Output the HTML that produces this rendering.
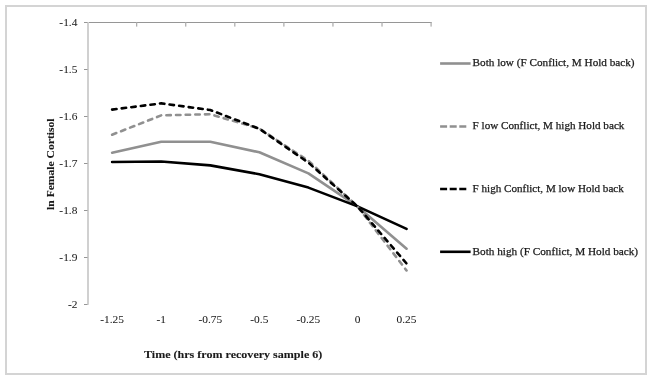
<!DOCTYPE html>
<html><head><meta charset="utf-8"><style>
html,body{margin:0;padding:0;background:#fff;}
body{width:652px;height:380px;overflow:hidden;}
svg{display:block;will-change:transform;}
text{font-family:"Liberation Serif", serif;fill:#1a1a1a;stroke:#1a1a1a;stroke-width:0.25px;}
text.b{stroke-width:0.1px;}
text.t{stroke-width:0.05px;}
</style></head><body>
<svg width="652" height="380" viewBox="0 0 652 380">
<rect x="0" y="0" width="652" height="380" fill="#fff"/>
<rect x="6" y="6" width="640" height="368" fill="none" stroke="#d4d4d4" stroke-width="2"/>

<rect x="84" y="22" width="347.6" height="1" fill="#969696"/>
<rect x="136.07" y="22" width="1.2" height="4.6" fill="#aaa"/>
<rect x="185.14" y="22" width="1.2" height="4.6" fill="#aaa"/>
<rect x="234.21" y="22" width="1.2" height="4.6" fill="#aaa"/>
<rect x="283.28" y="22" width="1.2" height="4.6" fill="#aaa"/>
<rect x="332.35" y="22" width="1.2" height="4.6" fill="#aaa"/>
<rect x="381.42" y="22" width="1.2" height="4.6" fill="#aaa"/>
<rect x="430.49" y="22" width="1.2" height="4.6" fill="#aaa"/>
<rect x="87" y="22" width="2" height="282.8" fill="#d0d0d0"/>
<rect x="84" y="22" width="3.5" height="1" fill="#969696"/>
<text x="77.4" y="26.40" font-size="11.4" text-anchor="end" class="t">-1.4</text>
<rect x="84" y="69" width="3.5" height="1" fill="#969696"/>
<text x="77.4" y="73.40" font-size="11.4" text-anchor="end" class="t">-1.5</text>
<rect x="84" y="116" width="3.5" height="1" fill="#969696"/>
<text x="77.4" y="120.40" font-size="11.4" text-anchor="end" class="t">-1.6</text>
<rect x="84" y="163" width="3.5" height="1" fill="#969696"/>
<text x="77.4" y="167.40" font-size="11.4" text-anchor="end" class="t">-1.7</text>
<rect x="84" y="210" width="3.5" height="1" fill="#969696"/>
<text x="77.4" y="214.40" font-size="11.4" text-anchor="end" class="t">-1.8</text>
<rect x="84" y="257" width="3.5" height="1" fill="#969696"/>
<text x="77.4" y="261.40" font-size="11.4" text-anchor="end" class="t">-1.9</text>
<rect x="84" y="304" width="3.5" height="1" fill="#969696"/>
<text x="77.4" y="308.40" font-size="11.4" text-anchor="end" class="t">-2</text>
<text x="112.13" y="322.9" font-size="11.4" text-anchor="middle" class="t">-1.25</text>
<text x="161.20" y="322.9" font-size="11.4" text-anchor="middle" class="t">-1</text>
<text x="210.27" y="322.9" font-size="11.4" text-anchor="middle" class="t">-0.75</text>
<text x="259.35" y="322.9" font-size="11.4" text-anchor="middle" class="t">-0.5</text>
<text x="308.41" y="322.9" font-size="11.4" text-anchor="middle" class="t">-0.25</text>
<text x="357.49" y="322.9" font-size="11.4" text-anchor="middle" class="t">0</text>
<text x="406.55" y="322.9" font-size="11.4" text-anchor="middle" class="t">0.25</text>
<text x="144" y="357.5" font-size="11.3" font-weight="bold" class="b" textLength="178.3" lengthAdjust="spacingAndGlyphs">Time (hrs from recovery sample 6)</text>
<text transform="translate(53.5,164.2) rotate(-90)" font-size="11.3" font-weight="bold" class="b" text-anchor="middle" textLength="91.5" lengthAdjust="spacingAndGlyphs">ln Female Cortisol</text>
<polyline points="112.13,152.80 161.20,141.80 210.27,141.80 259.35,152.30 308.41,173.40 357.49,206.40 406.55,248.70" fill="none" stroke="#909090" stroke-width="2.6" stroke-linejoin="round" stroke-linecap="round"/>
<polyline points="112.13,162.00 161.20,161.50 210.27,165.40 259.35,174.20 308.41,187.60 357.49,206.40 406.55,228.90" fill="none" stroke="#000" stroke-width="2.6" stroke-linejoin="round" stroke-linecap="round"/>
<polyline points="112.13,134.70 161.20,115.40 210.27,114.20 259.35,128.60 308.41,160.80 357.49,206.40 406.55,270.50" fill="none" stroke="#909090" stroke-width="2.6" stroke-dasharray="4.45 5.2" stroke-linejoin="round" stroke-linecap="round"/>
<polyline points="112.13,109.60 161.20,103.40 210.27,110.00 259.35,128.80 308.41,162.60 357.49,206.40 406.55,263.50" fill="none" stroke="#000" stroke-width="2.6" stroke-dasharray="4.45 5.2" stroke-linejoin="round" stroke-linecap="round"/>
<line x1="440.1" y1="63.5" x2="470.6" y2="63.5" stroke="#909090" stroke-width="2.6"/>
<text x="472.6" y="66.2" font-size="11" textLength="162.0" lengthAdjust="spacingAndGlyphs">Both low (F Conflict, M Hold back)</text>
<line x1="440.1" y1="126.5" x2="466.4" y2="126.5" stroke="#909090" stroke-width="2.6" stroke-dasharray="7 2.6"/>
<text x="472.6" y="128.7" font-size="11" textLength="151.8" lengthAdjust="spacingAndGlyphs">F low Conflict, M high Hold back</text>
<line x1="440.1" y1="189.0" x2="466.4" y2="189.0" stroke="#000" stroke-width="2.6" stroke-dasharray="7 2.6"/>
<text x="472.6" y="192.0" font-size="11" textLength="151.2" lengthAdjust="spacingAndGlyphs">F high Conflict, M low Hold back</text>
<line x1="440.1" y1="251.8" x2="470.6" y2="251.8" stroke="#000" stroke-width="2.6"/>
<text x="472.6" y="254.8" font-size="11" textLength="165.5" lengthAdjust="spacingAndGlyphs">Both high (F Conflict, M Hold back)</text>
</svg>
</body></html>
